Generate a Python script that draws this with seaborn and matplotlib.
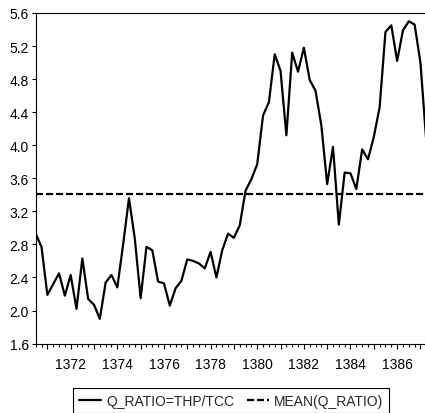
import numpy as np
import pandas as pd
import seaborn as sns
import matplotlib.pyplot as plt
from matplotlib.ticker import MultipleLocator, FuncFormatter

sns.set_style('ticks')
plt.rcParams['font.family'] = ['Liberation Sans Narrow', 'Liberation Sans', 'DejaVu Sans']

# quarterly series, first obs 1370Q3
start_year = 1370.5
q_ratio = [2.93, 2.77, 2.19, 2.32, 2.45, 2.18, 2.43, 2.02, 2.63, 2.14,
           2.07, 1.90, 2.34, 2.43, 2.28, 2.80, 3.36, 2.87, 2.15, 2.77,
           2.73, 2.35, 2.33, 2.06, 2.27, 2.36, 2.62, 2.60, 2.57, 2.51,
           2.71, 2.40, 2.73, 2.93, 2.88, 3.03, 3.45, 3.59, 3.77, 4.36,
           4.52, 5.10, 4.90, 4.12, 5.12, 4.89, 5.18, 4.79, 4.66, 4.24,
           3.53, 3.98, 3.04, 3.67, 3.66, 3.47, 3.95, 3.83, 4.10, 4.46,
           5.37, 5.45, 5.02, 5.39, 5.50, 5.46, 5.00, 4.05]
series_names = ['Q_RATIO=THP/TCC', 'MEAN(Q_RATIO)']

dates = start_year + 0.25 * np.arange(len(q_ratio))
df = pd.DataFrame({'date': dates, series_names[0]: q_ratio})
df[series_names[1]] = np.mean(q_ratio)
long_df = df.melt(id_vars='date', var_name='series', value_name='value')

fig = plt.figure(figsize=(4.25, 4.14), dpi=100)
ax = fig.add_axes([0.084, 0.1676, 0.919, 0.7986])

sns.lineplot(data=long_df, x='date', y='value', hue='series', style='series',
             palette=['black', 'black'], dashes=['', (3.2, 1.3)],
             linewidth=1.6, ax=ax)

ax.set_xlim(dates[0], dates[-1])
ax.set_ylim(1.6, 5.6)
ax.yaxis.set_major_locator(MultipleLocator(0.4))
ax.yaxis.set_major_formatter(FuncFormatter(lambda v, p: f'{v:.1f}'))
ax.xaxis.set_major_locator(MultipleLocator(1))
ax.xaxis.set_minor_locator(MultipleLocator(0.25))
ax.xaxis.set_major_formatter(FuncFormatter(lambda v, p: f'{int(round(v))}' if round(v) % 2 == 0 else ''))
ax.set_xlabel('')
ax.set_ylabel('')

ax.tick_params(axis='both', which='major', direction='out', labelsize=10, color='black', labelcolor='black', width=0.8)
ax.tick_params(axis='x', which='major', length=3.5, pad=6)
ax.tick_params(axis='x', which='minor', length=2, width=0.8, color='black')
ax.tick_params(axis='y', which='major', length=3, pad=2)

for side in ['left', 'top', 'bottom']:
    ax.spines[side].set_color('black')
    ax.spines[side].set_linewidth(0.8)
ax.spines['right'].set_visible(False)

sns.move_legend(ax, 'center', bbox_to_anchor=(0.5, -0.173), ncol=2, title=None,
                frameon=True, fancybox=False, edgecolor='black', framealpha=1,
                fontsize=10, handlelength=1.6, handletextpad=0.35,
                columnspacing=0.9, borderpad=0.4)
ax.get_legend().get_frame().set_linewidth(0.8)

fig.savefig('out.png', dpi=100)
